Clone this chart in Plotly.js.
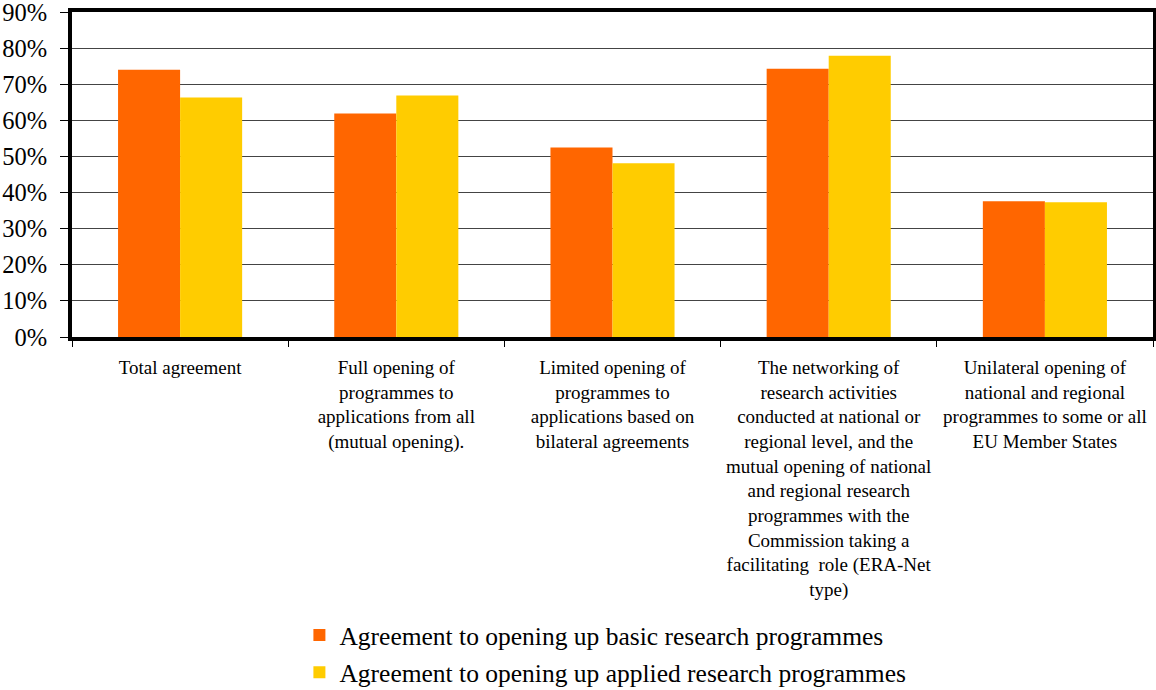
<!DOCTYPE html>
<html>
<head>
<meta charset="utf-8">
<script src="https://cdn.plot.ly/plotly-3.0.1.min.js"></script>
<style>html,body{margin:0;padding:0;background:#fff;}#chart{width:1156px;height:690px;}</style>
</head>
<body>
<div id="chart"></div>
<script>
var categories = [
  "Total agreement",
  "Full opening of<br>programmes to<br>applications from all<br>(mutual opening).",
  "Limited opening of<br>programmes to<br>applications based on<br>bilateral agreements",
  "The networking of<br>research activities<br>conducted at national or<br>regional level, and the<br>mutual opening of national<br>and regional research<br>programmes with the<br>Commission taking a<br>facilitating  role (ERA-Net<br>type)",
  "Unilateral opening of<br>national and regional<br>programmes to some or all<br>EU Member States"
];
var basicValues = [0.740, 0.619, 0.525, 0.743, 0.376];
var appliedValues = [0.663, 0.669, 0.481, 0.779, 0.373];
var seriesNames = [
  "Agreement to opening up basic research programmes",
  "Agreement to opening up applied research programmes"
];
var yTickVals = [0, 0.1, 0.2, 0.3, 0.4, 0.5, 0.6, 0.7, 0.8, 0.9];
var yTickText = ["0%", "10%", "20%", "30%", "40%", "50%", "60%", "70%", "80%", "90%"];

var font = "Liberation Serif";
var data = [
  {type: "bar", x: categories, y: basicValues, name: seriesNames[0], legendgroup: "a", marker: {color: "#FF6600"}},
  {type: "bar", x: categories, y: appliedValues, name: seriesNames[1], legendgroup: "b", marker: {color: "#FFCC00"}}
];
var layout = {
  width: 1156, height: 690,
  margin: {l: 72, r: 3, t: 12, b: 353, autoexpand: false},
  paper_bgcolor: "#fff", plot_bgcolor: "#fff",
  barmode: "group", bargap: 0.426, bargroupgap: 0,
  font: {family: font, color: "#000"},
  showlegend: true,
  legend: {xref: "container", yref: "container", x: 0.259, xanchor: "left", y: 0.113, yanchor: "top",
           orientation: "v", traceorder: "grouped", tracegroupgap: 1,
           font: {family: font, size: 25.5, color: "#000"}, itemwidth: 30},
  xaxis: {
    tickson: "boundaries", ticks: "outside", ticklen: 6, tickcolor: "#000", tickwidth: 1,
    showline: true, linewidth: 4, linecolor: "#000", mirror: true,
    tickfont: {family: font, size: 19, color: "#000"}, tickangle: 0,
    ticklabelstandoff: 10, automargin: false,
    showgrid: false, fixedrange: true
  },
  yaxis: {
    range: [0, 0.9001], tickvals: yTickVals, ticktext: yTickText,
    ticks: "outside", ticklen: 8, tickcolor: "#000", tickwidth: 1,
    showline: true, linewidth: 4, linecolor: "#000", mirror: true,
    showgrid: true, gridcolor: "#444", gridwidth: 1,
    tickfont: {family: font, size: 24.5, color: "#000"}, ticklabelstandoff: 8,
    ticklabeloverflow: "allow", automargin: false,
    zeroline: false, fixedrange: true
  }
};
Plotly.newPlot("chart", data, layout, {displayModeBar: false, staticPlot: true});
</script>
</body>
</html>
